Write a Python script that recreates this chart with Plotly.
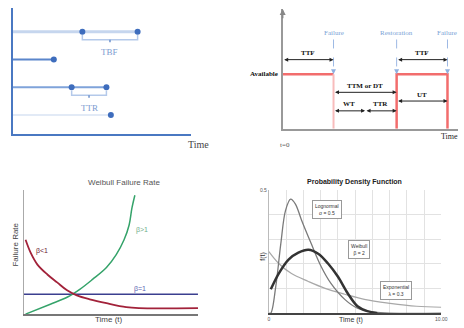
import plotly.graph_objects as go

W, H = 464, 328

# ---------------- Panel A: event timeline ----------------
a_rows = [4, 3, 2, 1]
a_line_end = [7.0, 2.3, 5.25, 5.5]
a_events = [[3.9, 7.0], [2.3], [3.3, 5.25], [5.5]]
a_brackets = [(4, 3.9, 7.0, "TBF"), (2, 3.3, 5.25, "TTR")]

# ---------------- Panel B: availability states ----------------
b_events = [2.9, 6.5, 9.4]
b_event_labels = ["Failure", "Restoration", "Failure"]
b_state_t = [0, 2.9, 2.9, 6.5, 6.5, 9.4, 9.4]
b_state_v = [1, 1, 0, 0, 1, 1, 0]
b_intervals = [("TTF", 0, 2.9, 1.27), ("TTM or DT", 2.9, 6.5, 0.67),
               ("WT", 2.9, 4.7, 0.33), ("TTR", 4.7, 6.5, 0.33),
               ("TTF", 6.5, 9.4, 1.27), ("UT", 6.5, 9.4, 0.51)]

# ---------------- Panel C: Weibull failure rate ----------------
c_dec_t = [0.11, 0.40, 0.79, 1.36, 1.92, 2.49, 3.05, 3.79, 4.75, 5.88, 6.61, 10.0]
c_dec_r = [6.0, 4.96, 4.0, 3.2, 2.56, 1.92, 1.52, 1.2, 0.88, 0.56, 0.48, 0.48]
c_const_t = [0.0, 10.0]
c_const_r = [1.6, 1.6]
c_inc_t = [0.11, 1.53, 2.49, 3.22, 3.95, 4.75, 5.31, 5.76, 6.05, 6.21, 6.38]
c_inc_r = [0.0, 0.8, 1.36, 2.0, 2.8, 3.76, 4.8, 6.0, 7.2, 8.56, 9.6]

# ---------------- Panel D: probability density functions ----------------
d_logn_t = [0.0, 0.11, 0.40, 0.69, 0.97, 1.26, 1.54, 1.89, 2.46, 3.03, 3.6, 4.4, 5.14, 6.11, 10.0]
d_logn_f = [0.0, 0.0, 0.109, 0.282, 0.419, 0.464, 0.444, 0.379, 0.282, 0.19, 0.121, 0.056, 0.02, 0.004, 0.0]
d_weib_t = [0.11, 0.57, 1.14, 1.71, 2.29, 2.86, 3.43, 4.0, 4.57, 5.14, 5.71, 6.29]
d_weib_f = [0.097, 0.161, 0.218, 0.246, 0.258, 0.242, 0.202, 0.149, 0.081, 0.028, 0.008, 0.0]
d_exp_t = [0.0, 0.57, 1.31, 2.29, 3.26, 4.4, 5.54, 7.03, 8.57, 10.0]
d_exp_f = [0.25, 0.202, 0.161, 0.129, 0.101, 0.077, 0.056, 0.04, 0.028, 0.024]
d_boxes = [("Lognormal<br>σ = 0.5", 3.4, 0.42), ("Weibull<br>β = 2", 5.2, 0.26),
           ("Exponential<br>λ = 0.3", 7.4, 0.093)]


def px(x):
    return x / W


def py(y):
    return 1 - y / H


fig = go.Figure()
ann = []


def paper_text(x, y, text, size, color, family="Liberation Sans", angle=0, anchor="center"):
    ann.append(dict(x=px(x), y=py(y), xref="paper", yref="paper", text=text,
                    showarrow=False, xanchor=anchor, yanchor="middle", textangle=angle,
                    font=dict(family=family, size=size, color=color)))


# ---- Panel A traces ----
a_line_styles = [("#c6d6ee", 3), ("#5b86cb", 2), ("#7fa3da", 2), ("#e2eaf6", 2)]
for i, row in enumerate(a_rows):
    col, w = a_line_styles[i]
    fig.add_trace(go.Scatter(x=[0, a_line_end[i]], y=[row, row], mode="lines",
                             line=dict(color=col, width=w), xaxis="x", yaxis="y",
                             hoverinfo="skip"))
    fig.add_trace(go.Scatter(x=a_events[i], y=[row] * len(a_events[i]), mode="markers",
                             marker=dict(color="#3e6dbd", size=6), xaxis="x", yaxis="y"))
for row, s, e, lab in a_brackets:
    m = (s + e) / 2
    fig.add_trace(go.Scatter(x=[s, s, e, e], y=[row - 0.12, row - 0.29, row - 0.29, row - 0.12],
                             mode="lines", line=dict(color="#b4c9ea", width=1.5),
                             xaxis="x", yaxis="y"))
    fig.add_trace(go.Scatter(x=[m, m], y=[row - 0.29, row - 0.38], mode="lines",
                             line=dict(color="#6b90cc", width=1.5), xaxis="x", yaxis="y"))
    ann.append(dict(x=m, y=row - 0.74, xref="x", yref="y", text=lab, showarrow=False,
                    xanchor="center", yanchor="middle",
                    font=dict(family="Liberation Serif", size=9, color="#7c9bd0")))
paper_text(201, 143, "Time", 10, "#444", "Liberation Serif")

# ---- Panel B traces ----
fig.add_trace(go.Scatter(x=b_state_t[0:2], y=b_state_v[0:2], mode="lines",
                         line=dict(color="#f26d6d", width=2.5), xaxis="x2", yaxis="y2"))
fig.add_trace(go.Scatter(x=b_state_t[1:3], y=b_state_v[1:3], mode="lines",
                         line=dict(color="#f8bcbc", width=2), xaxis="x2", yaxis="y2"))
fig.add_trace(go.Scatter(x=b_state_t[3:], y=b_state_v[3:], mode="lines",
                         line=dict(color="#f26d6d", width=2.5), xaxis="x2", yaxis="y2"))
for t, lab in zip(b_events, b_event_labels):
    fig.add_trace(go.Scatter(x=[t, t], y=[1.64, 1.04], mode="lines",
                             line=dict(color="#9db9e4", width=1, dash="dash"),
                             xaxis="x2", yaxis="y2"))
    ann.append(dict(x=t, y=1.0, ax=t, ay=1.1, xref="x2", yref="y2", axref="x2", ayref="y2",
                    text="", showarrow=True, arrowhead=2, arrowsize=1, arrowwidth=1,
                    arrowcolor="#8fb0e0"))
    ann.append(dict(x=t, y=1.76, xref="x2", yref="y2", text=lab, showarrow=False,
                    xanchor="center", yanchor="middle",
                    font=dict(family="Liberation Serif", size=7, color="#7a9fd6")))
for lab, s, e, lvl in b_intervals:
    ann.append(dict(x=e, y=lvl, ax=s, ay=lvl, xref="x2", yref="y2", axref="x2", ayref="y2",
                    text="", showarrow=True, arrowhead=2, arrowsize=0.8, arrowwidth=1,
                    arrowside="end+start", arrowcolor="#222"))
    ann.append(dict(x=(s + e) / 2, y=lvl + 0.12, xref="x2", yref="y2", text="<b>%s</b>" % lab,
                    showarrow=False, xanchor="center", yanchor="middle",
                    font=dict(family="Liberation Serif", size=7, color="#111")))
ann.append(dict(x=0, y=1, xref="x2", yref="y2", text="<b>Available</b>", showarrow=False,
                xanchor="right", yanchor="middle", xshift=-3,
                font=dict(family="Liberation Serif", size=7, color="#111")))
ann.append(dict(x=0, y=2.2, ax=0, ay=2.0, xref="x2", yref="y2", axref="x2", ayref="y2",
                text="", showarrow=True, arrowhead=2, arrowsize=0.8, arrowwidth=1.5,
                arrowcolor="#888"))
paper_text(288, 143, "t=0", 7, "#555", "Liberation Serif")
paper_text(445, 135, "Time", 8, "#222", "Liberation Serif", anchor="left")

# ---- Panel C traces ----
fig.add_trace(go.Scatter(x=c_const_t, y=c_const_r, mode="lines",
                         line=dict(color="#3b3f8f", width=1.5), xaxis="x3", yaxis="y3"))
fig.add_trace(go.Scatter(x=c_inc_t, y=c_inc_r, mode="lines", line_shape="spline",
                         line=dict(color="#35a36a", width=1.5), xaxis="x3", yaxis="y3"))
fig.add_trace(go.Scatter(x=c_dec_t, y=c_dec_r, mode="lines", line_shape="spline",
                         line=dict(color="#a2223a", width=1.8), xaxis="x3", yaxis="y3"))
for txt, x, y, col in [("β<1", 1.07, 5.1, "#6b2030"), ("β=1", 6.7, 2.0, "#5a63b0"),
                       ("β>1", 6.8, 6.8, "#6fae8b")]:
    ann.append(dict(x=x, y=y, xref="x3", yref="y3", text=txt, showarrow=False,
                    xanchor="center", yanchor="middle",
                    font=dict(family="Liberation Sans", size=7, color=col)))
paper_text(125, 181, "Weibull Failure Rate", 8, "#555")
paper_text(110, 319, "Time (t)", 8, "#444")
paper_text(15, 244, "Failure Rate", 8, "#444", angle=-90)

# ---- Panel D traces ----
fig.add_trace(go.Scatter(x=d_exp_t, y=d_exp_f, mode="lines", line_shape="spline",
                         line=dict(color="#a8a8a8", width=1.2), xaxis="x4", yaxis="y4"))
fig.add_trace(go.Scatter(x=d_logn_t, y=d_logn_f, mode="lines", line_shape="spline",
                         line=dict(color="#7a7a7a", width=1.3), xaxis="x4", yaxis="y4"))
fig.add_trace(go.Scatter(x=d_weib_t, y=d_weib_f, mode="lines", line_shape="spline",
                         line=dict(color="#333333", width=2.5), xaxis="x4", yaxis="y4"))
for txt, x, y in d_boxes:
    ann.append(dict(x=x, y=y, xref="x4", yref="y4", text=txt, showarrow=False,
                    xanchor="center", yanchor="middle",
                    bordercolor="#999", borderwidth=1, bgcolor="white", borderpad=2,
                    font=dict(family="Liberation Sans", size=5, color="#333")))
paper_text(359, 181, "<b>Probability Density Function</b>", 7, "#222")
paper_text(355, 320, "Time (t)", 7, "#333")
paper_text(266, 255, "f(t)", 7, "#333", angle=-90)

fig.update_layout(
    width=W, height=H, margin=dict(l=0, r=0, t=0, b=0),
    paper_bgcolor="white", plot_bgcolor="white", showlegend=False,
    annotations=ann,
    xaxis=dict(domain=[px(12), px(193)], range=[0, 10], anchor="y", showline=True,
               linecolor="#4a78c2", linewidth=2, showgrid=False, zeroline=False,
               showticklabels=False, ticks=""),
    yaxis=dict(domain=[py(132), py(5)], range=[0.32, 4.86], anchor="x", showline=True,
               linecolor="#4a78c2", linewidth=2, showgrid=False, zeroline=False,
               showticklabels=False, ticks=""),
    xaxis2=dict(domain=[px(286), 1.0], range=[0, 10], anchor="y2", showline=True,
                linecolor="#999", linewidth=1.5, showgrid=False, zeroline=False,
                showticklabels=False, ticks=""),
    yaxis2=dict(domain=[py(127), py(6)], range=[0, 2.2], anchor="x2", showline=True,
                linecolor="#999", linewidth=1.5, showgrid=False, zeroline=False,
                showticklabels=False, ticks=""),
    xaxis3=dict(domain=[px(23), px(200)], range=[0, 10], anchor="y3", showline=True,
                linecolor="#777", linewidth=1.5, showgrid=False, zeroline=False,
                showticklabels=False, ticks=""),
    yaxis3=dict(domain=[py(314), py(189)], range=[0, 10], anchor="x3", showline=True,
                linecolor="#aaa", linewidth=1, showgrid=False, zeroline=False,
                showticklabels=False, ticks=""),
    xaxis4=dict(domain=[px(272), px(447)], range=[0, 10], anchor="y4", showline=True,
                linecolor="#444", linewidth=2, showgrid=True, gridcolor="#e2e2e2",
                gridwidth=1, zeroline=False, ticks="",
                tickvals=[0, 1, 2, 3, 4, 5, 6, 7, 8, 9, 10],
                ticktext=["0", "", "", "", "", "", "", "", "", "", "10.00"],
                tickfont=dict(family="Liberation Sans", size=5, color="#555")),
    yaxis4=dict(domain=[py(313), py(189)], range=[0, 0.5], anchor="x4", showline=True,
                linecolor="#bbb", linewidth=1, showgrid=True, gridcolor="#e2e2e2",
                zeroline=False, ticks="", tickvals=[0.1, 0.2, 0.3, 0.4, 0.5],
                ticktext=["", "", "", "", "0.5"],
                tickfont=dict(family="Liberation Sans", size=5, color="#555")),
)

fig.write_html("out.html", config={"displayModeBar": False},
               post_script="document.body.style.margin='0';document.body.style.overflow='hidden';")
